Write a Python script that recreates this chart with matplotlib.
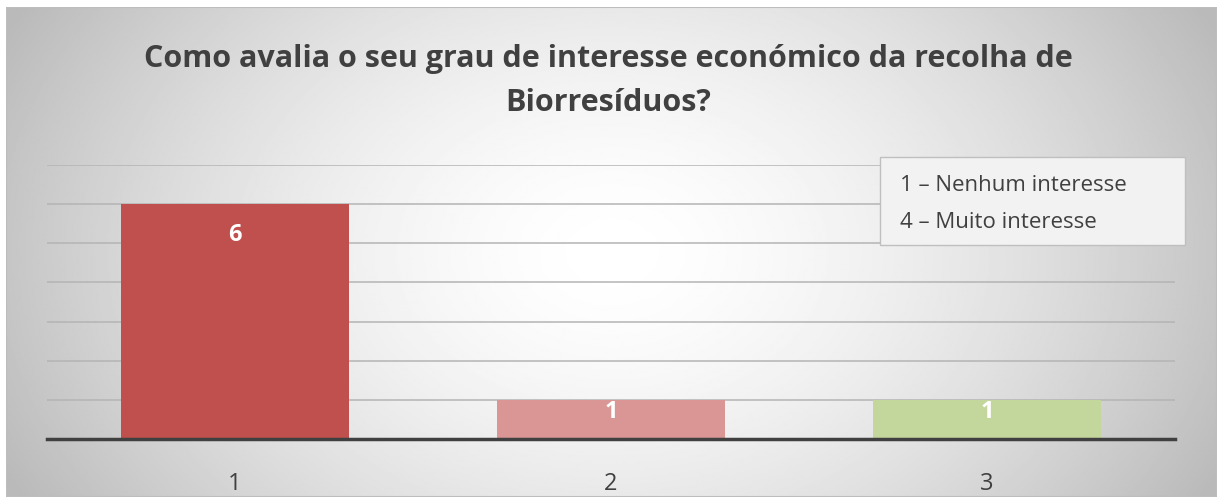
import numpy as np
import matplotlib.pyplot as plt
from matplotlib.patches import Rectangle

categories = ["1", "2", "3"]
values = [6, 1, 1]
bar_colors = ["#C0504D", "#D99694", "#C3D69B"]
title = "Como avalia o seu grau de interesse económico da recolha de\nBiorresíduos?"
note_lines = ["1 – Nenhum interesse", "4 – Muito interesse"]

plt.rcParams["font.family"] = ["Open Sans", "DejaVu Sans"]

W, H = 1217, 497
fig = plt.figure(figsize=(W / 100, H / 100), dpi=100)
fig.patch.set_facecolor("white")

# background panel with radial gradient
bg = fig.add_axes([6 / W, 0, 1 - 6 / W, 1 - 7 / H])
bg.set_axis_off()
ny, nx = 300, 700
yy, xx = np.mgrid[0:ny, 0:nx]
cx, cy = 0.50 * nx, 0.50 * ny
r = np.sqrt(((xx - cx) / (0.56 * nx)) ** 2 + ((yy - cy) / (1.0 * ny)) ** 2)
r = np.clip(r, 0, 1)
grad = 1.0 - 0.27 * r ** 1.6
bg.imshow(grad, cmap="gray", vmin=0, vmax=1, aspect="auto",
          extent=[0, 1, 0, 1], interpolation="bilinear")
bg.add_patch(Rectangle((0, 0), 1, 1, transform=bg.transAxes, fill=False,
                       edgecolor="#bdbdbd", linewidth=1.5))

ax = fig.add_axes([47 / W, 1 - 439 / H, 1128 / W, (439 - 165) / H])
ax.patch.set_alpha(0)
x = np.arange(len(categories))
bars = ax.bar(x, values, width=0.605, color=bar_colors, zorder=2)
ax.set_xlim(-0.5, len(categories) - 0.5)
ax.set_ylim(0, 7)
ax.set_yticks(range(0, 8))
ax.yaxis.grid(True, color="#b4b4b4", linewidth=1.1, zorder=0)
ax.set_axisbelow(True)
ax.tick_params(axis="y", left=False, labelleft=False)
ax.tick_params(axis="x", bottom=False, labelsize=17, labelcolor="#404040", pad=20)
ax.set_xticks(x)
ax.set_xticklabels(categories)
for s in ["top", "right", "left"]:
    ax.spines[s].set_visible(False)
ax.spines["bottom"].set_color("#404040")
ax.spines["bottom"].set_linewidth(2.5)

# label offsets below bar top (points), as in the reference
label_offsets = [-22, -9, -9]
for b, v, off in zip(bars, values, label_offsets):
    ax.annotate(str(v), (b.get_x() + b.get_width() / 2, v), xytext=(0, off),
                textcoords="offset points", ha="center", va="center",
                color="white", fontsize=17, fontweight="bold", zorder=3)

fig.text(0.5, 1 - 81 / H, title, ha="center", va="center", fontsize=22,
         fontweight="bold", color="#404040", linespacing=1.62)

# note box
fig.patches.append(Rectangle((880 / W, 1 - 245 / H), 305 / W, 88 / H,
                             transform=fig.transFigure, facecolor="#f2f2f2",
                             edgecolor="#bfbfbf", linewidth=1, zorder=3))
fig.text(900 / W, 1 - 204 / H, "\n".join(note_lines), ha="left", va="center",
         fontsize=16, color="#404040", linespacing=2.0, zorder=4)

fig.savefig("out.png", dpi=100)
